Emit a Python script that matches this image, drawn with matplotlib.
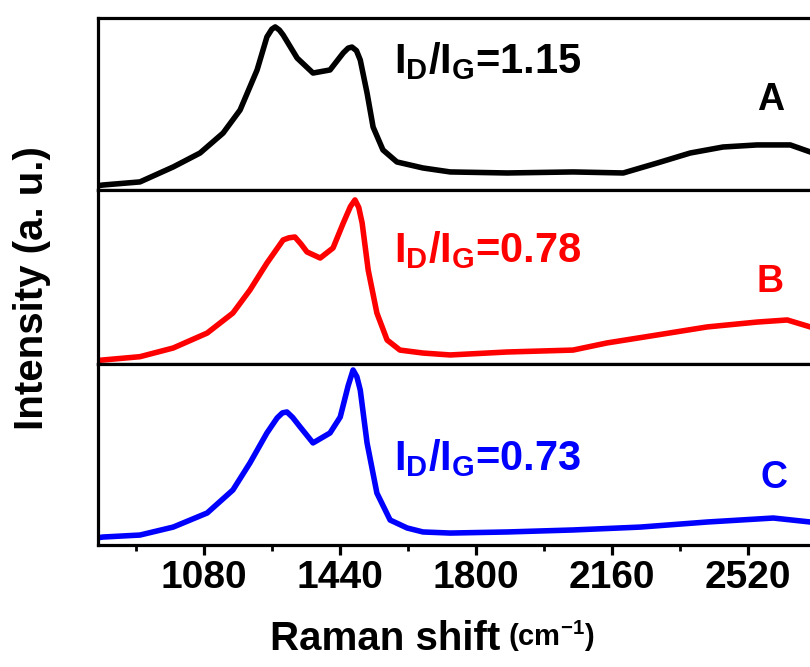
import numpy as np
import matplotlib.pyplot as plt
from matplotlib.ticker import MultipleLocator

plt.rcParams['font.family'] = ['Liberation Sans', 'DejaVu Sans']
plt.rcParams['font.weight'] = 'bold'
plt.rcParams['mathtext.fontset'] = 'custom'
plt.rcParams['mathtext.rm'] = 'Liberation Sans:bold'
plt.rcParams['mathtext.bf'] = 'Liberation Sans:bold'
plt.rcParams['mathtext.it'] = 'Liberation Sans:bold'

# --- DATA (intensity in a.u. per panel) ---
wn_A = [800, 813, 911, 999, 1070, 1131, 1176, 1221, 1247, 1260, 1269, 1280, 1290, 1327, 1369,
        1414, 1449, 1462, 1472, 1484, 1494, 1512, 1528, 1554, 1591, 1660, 1732, 1883, 2057,
        2190, 2280, 2367, 2454, 2544, 2632, 2685, 2700]
int_A = [2.5, 2.9, 4.7, 13.4, 21.5, 33.1, 46.5, 69.8, 89.0, 93.5, 94.8, 93.0, 90.1, 76.7, 68.0,
         69.8, 79.7, 82.5, 83.1, 81.0, 75.6, 56.4, 36.6, 23.3, 16.3, 12.8, 10.5, 9.9, 10.5,
         9.9, 15.7, 21.5, 25.0, 26.2, 26.2, 22.1, 21.0]

wn_B = [800, 813, 911, 999, 1089, 1157, 1202, 1247, 1290, 1305, 1321, 1337, 1353, 1388, 1422,
        1449, 1468, 1480, 1490, 1499, 1515, 1538, 1565, 1599, 1660, 1732, 1883, 2057, 2147,
        2280, 2412, 2544, 2624, 2685, 2700]
int_B = [2.0, 2.3, 4.2, 9.2, 17.8, 29.3, 42.5, 58.0, 71.3, 72.5, 73.0, 69.0, 64.4, 60.9, 66.7,
         81.0, 90.5, 94.3, 90.0, 81.0, 54.0, 29.3, 13.8, 8.0, 6.3, 5.2, 6.9, 8.0, 12.1,
         16.7, 21.3, 24.1, 25.3, 21.3, 20.5]

wn_C = [800, 813, 911, 999, 1089, 1157, 1202, 1247, 1274, 1288, 1300, 1315, 1335, 1369, 1414,
        1441, 1462, 1475, 1485, 1494, 1512, 1538, 1573, 1618, 1660, 1732, 1883, 2057, 2235,
        2412, 2587, 2685, 2700]
int_C = [4.0, 4.4, 5.5, 9.9, 17.7, 30.4, 45.3, 61.9, 70.2, 73.0, 73.5, 70.5, 65.2, 56.4, 61.9,
         70.7, 88.0, 96.7, 93.0, 85.6, 56.4, 28.7, 13.8, 9.4, 7.2, 6.6, 7.2, 8.3, 9.9,
         12.7, 14.9, 12.7, 12.3]

ratios = ['1.15', '0.78', '0.73']
samples = ['A', 'B', 'C']
colors = ['black', '#ff0000', '#0000ff']

# --- FIGURE ---
fig = plt.figure(figsize=(8.1, 6.67), dpi=100)
left = 98 / 810
width = 718 / 810
# panel edges in pixels from the top (top, bottom)
edges = [(18, 190), (190, 364), (364, 545)]
axes = []
for top, bot in edges:
    ax = fig.add_axes([left, (667 - bot) / 667, width, (bot - top) / 667])
    axes.append(ax)

# text positions: (x, y) of ratio label, (x, y) of sample letter
ratio_pos = [(1583, 68.0), (1583, 58.6), (1583, 41.4)]
letter_pos = [(2579, 46.5), (2579, 41.4), (2589, 31.5)]

data = [(wn_A, int_A), (wn_B, int_B), (wn_C, int_C)]
for i, ax in enumerate(axes):
    wn, inten = data[i]
    ax.plot(wn, inten, color=colors[i], lw=4.0, solid_joinstyle='round')
    ax.set_xlim(800, 2700)
    ax.set_ylim(0, 100)
    ax.set_yticks([])
    for sp in ax.spines.values():
        sp.set_linewidth(2.3)
    ax.text(ratio_pos[i][0], ratio_pos[i][1],
            r'I$_{\mathbf{D}}$/I$_{\mathbf{G}}$=' + ratios[i],
            color=colors[i], fontsize=30, fontweight='bold', ha='left', va='baseline')
    ax.text(letter_pos[i][0], letter_pos[i][1], samples[i],
            color=colors[i], fontsize=27, fontweight='bold', ha='center', va='baseline')
    if i < 2:
        ax.set_xticks([])

# bottom axis ticks
ax = axes[2]
ax.xaxis.set_minor_locator(MultipleLocator(180))
ax.set_xticks([1080, 1440, 1800, 2160, 2520])
ax.tick_params(axis='x', which='major', direction='out', length=7, width=2.3, labelsize=28, pad=4)
ax.tick_params(axis='x', which='minor', direction='out', length=4.5, width=2.0)
for lab in ax.get_xticklabels():
    lab.set_fontweight('bold')
xlab = ax.set_xlabel('Raman shift', fontsize=29, fontweight='bold', labelpad=17)
xlab.set_x(0.40)
ax.annotate(r' (cm$^{-1}$)', xy=(1, 0.1), xycoords=xlab, fontsize=21,
            ha='left', va='bottom')

fig.text(0.04, (667 - 288) / 667, 'Intensity (a. u.)', rotation=90, fontsize=29,
         fontweight='bold', ha='center', va='center')

fig.savefig('out.png', dpi=100)
